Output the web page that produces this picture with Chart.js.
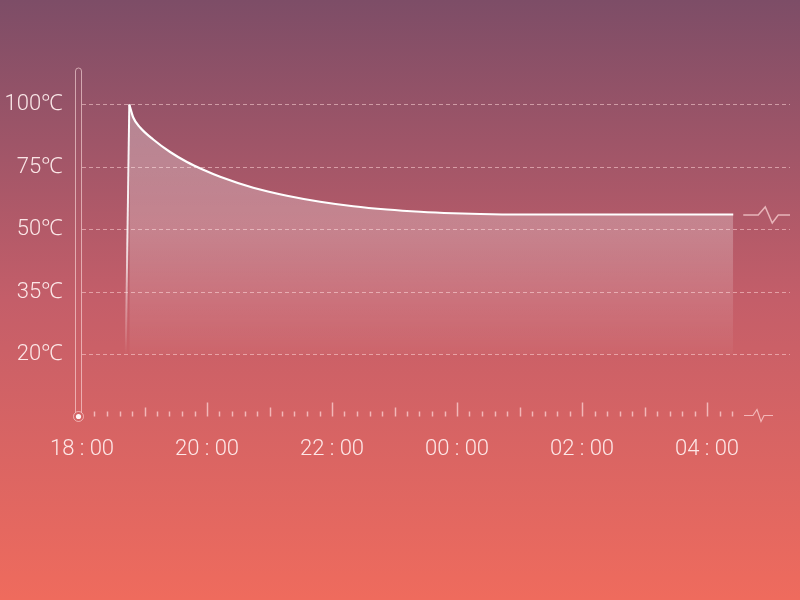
<!DOCTYPE html>
<html>
<head>
<meta charset="utf-8">
<script src="https://cdn.jsdelivr.net/npm/chart.js@4/dist/chart.umd.min.js"></script>
<style>
    html, body { margin: 0; padding: 0; }
    body {
        width: 800px; height: 600px; overflow: hidden;
        background: linear-gradient(to bottom, #7d4d67 0%, #c45e69 50%, #ef6b5d 100%);
    }
</style>
</head>
<body>
<canvas id="chart" width="800" height="600"></canvas>
<script>
// Graduations de l'axe Y (espacées régulièrement, échelle non linéaire)
const yTickValues = [20, 35, 50, 75, 100];
const yTickLabels = ['20℃', '35℃', '50℃', '75℃', '100℃'];

// Axe X : heures depuis 18:00 (24 et plus = le lendemain)
const xTickValues = [18, 20, 22, 24, 26, 28];
const xTickLabels = ['18:00', '20:00', '22:00', '00:00', '02:00', '04:00'];

// Montée brutale au début
const edgeTimes = [18.70, 18.757];
const edgeTemps = [20, 100];

// Courbe de refroidissement
const curveTimes = [18.757, 18.82, 18.93, 19.14, 19.41, 19.68, 19.94, 20.21, 20.74, 21.28, 21.81, 22.34, 22.88, 23.41, 23.94, 24.37, 25, 26, 27, 28, 28.42];
const curveTemps = [100, 94.8, 90.8, 86.0, 81.0, 77.0, 73.9, 71.1, 66.7, 63.5, 61.1, 59.3, 58.0, 57.1, 56.5, 56.2, 56, 56, 56, 56, 56];

const textColor = 'rgba(255,238,238,0.95)';
const lineColor = 'rgba(255,220,220,0.7)';
const font = { family: "Roboto, 'Noto Sans', 'DejaVu Sans', sans-serif", size: 22, weight: 300 };

// Convertit une température en position sur l'axe (index des graduations)
function tempToPos(t) {
    for (let i = 0; i < yTickValues.length - 1; i++) {
        const a = yTickValues[i], b = yTickValues[i + 1];
        if (t <= b) return i + (t - a) / (b - a);
    }
    return yTickValues.length - 1;
}

const toPoints = (xs, ts) => xs.map((x, i) => ({ x: x, y: tempToPos(ts[i]) }));

// Dégradés verticaux
function vGradient(chart, stops) {
    const y = chart.scales.y;
    if (!chart.chartArea || !y) return 'rgba(255,255,255,0.2)';
    const top = y.getPixelForValue(4), bottom = y.getPixelForValue(0);
    if (!isFinite(top) || !isFinite(bottom)) return 'rgba(255,255,255,0.2)';
    const g = chart.ctx.createLinearGradient(0, top, 0, bottom);
    stops.forEach(s => g.addColorStop(s[0], s[1]));
    return g;
}

// Décor : tube du thermomètre, graduations de l'axe X, symboles de coupure
const decor = {
    id: 'decor',
    afterDraw(chart) {
        const { ctx, chartArea, scales: { x, y } } = chart;
        const base = chartArea.bottom - 0.5;
        const ax = chartArea.left - 3.5;
        ctx.save();
        ctx.strokeStyle = 'rgba(255,225,225,0.6)';
        ctx.lineWidth = 1;
        // tube
        ctx.beginPath();
        ctx.moveTo(ax - 3, base - 4);
        ctx.lineTo(ax - 3, chartArea.top + 3);
        ctx.arc(ax, chartArea.top + 3, 3, Math.PI, 0);
        ctx.lineTo(ax + 3, base - 4);
        ctx.stroke();
        // bulbe
        ctx.beginPath();
        ctx.arc(ax, base, 5, 0, Math.PI * 2);
        ctx.stroke();
        ctx.fillStyle = 'rgba(255,255,255,0.95)';
        ctx.beginPath();
        ctx.arc(ax, base, 2.6, 0, Math.PI * 2);
        ctx.fill();

        // graduations toutes les 12 min
        ctx.strokeStyle = lineColor;
        ctx.lineWidth = 1.5;
        for (let k = 1; k <= 52; k++) {
            const px = Math.round(x.getPixelForValue(18 + k * 0.2)) + 0.5;
            const h = k % 10 === 0 ? 14 : (k % 5 === 0 ? 9 : 5);
            ctx.beginPath();
            ctx.moveTo(px, base);
            ctx.lineTo(px, base - h);
            ctx.stroke();
        }

        // coupure de l'axe X
        const bx = x.getPixelForValue(28.4) + 12;
        ctx.lineWidth = 1.2;
        ctx.beginPath();
        ctx.moveTo(bx, base - 1);
        ctx.lineTo(bx + 9, base - 1);
        ctx.lineTo(bx + 13, base - 7);
        ctx.lineTo(bx + 17, base + 5);
        ctx.lineTo(bx + 20, base - 1);
        ctx.lineTo(bx + 29, base - 1);
        ctx.stroke();

        // coupure de la courbe
        const last = curveTimes.length - 1;
        const cx = x.getPixelForValue(curveTimes[last]) + 10;
        const cy = y.getPixelForValue(tempToPos(curveTemps[last])) + 0.5;
        ctx.lineWidth = 1.5;
        ctx.beginPath();
        ctx.moveTo(cx, cy);
        ctx.lineTo(cx + 15, cy);
        ctx.lineTo(cx + 22, cy - 8);
        ctx.lineTo(cx + 29, cy + 8);
        ctx.lineTo(cx + 35, cy);
        ctx.lineTo(chartArea.right, cy);
        ctx.stroke();
        ctx.restore();
    }
};

new Chart(document.getElementById('chart'), {
    type: 'line',
    data: {
        datasets: [
            {
                data: toPoints(edgeTimes, edgeTemps),
                borderWidth: 2,
                borderColor: c => vGradient(c.chart, [[0, 'rgba(255,255,255,1)'], [0.55, 'rgba(255,255,255,0.85)'], [1, 'rgba(255,255,255,0)']]),
                pointRadius: 0,
                fill: false,
            },
            {
                data: toPoints(curveTimes, curveTemps),
                borderWidth: 2.2,
                borderColor: '#ffffff',
                cubicInterpolationMode: 'monotone',
                pointRadius: 0,
                fill: { value: 0 },
                backgroundColor: c => vGradient(c.chart, [[0, 'rgba(255,255,255,0.3)'], [0.5, 'rgba(255,255,255,0.25)'], [1, 'rgba(255,255,255,0.03)']]),
            },
        ],
    },
    options: {
        responsive: false,
        devicePixelRatio: 1,
        animation: false,
        layout: { padding: { top: 68, right: 10, bottom: 0, left: 0 } },
        plugins: { legend: { display: false }, tooltip: { enabled: false } },
        scales: {
            x: {
                type: 'linear',
                min: 18,
                max: 18 + (790 - 82) / 62.5,
                afterBuildTicks: s => { s.ticks = xTickValues.map(v => ({ value: v })); },
                afterFit: s => { s.height = 183; },
                grid: { display: false },
                border: { display: false },
                ticks: {
                    autoSkip: false,
                    maxRotation: 0,
                    padding: 11,
                    color: textColor,
                    font: font,
                    callback: (v, i) => xTickLabels[i].replace(':', ' : '),
                },
            },
            y: {
                type: 'linear',
                min: -1,
                max: 4.584,
                afterBuildTicks: s => { s.ticks = yTickLabels.map((l, i) => ({ value: i })); },
                afterFit: s => { s.width = 82; },
                grid: { color: 'rgba(255,215,215,0.55)', lineWidth: 1, drawTicks: false },
                border: { display: false, dash: [4, 3] },
                ticks: {
                    padding: 19,
                    color: textColor,
                    font: font,
                    callback: (v, i) => yTickLabels[i],
                },
            },
        },
    },
    plugins: [decor],
});
</script>
</body>
</html>
